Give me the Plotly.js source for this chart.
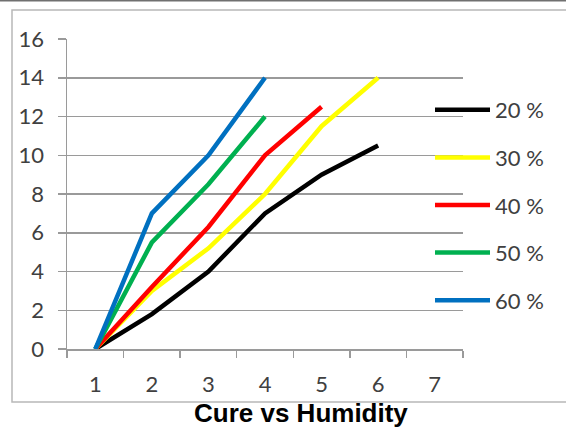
<!DOCTYPE html>
<html>
<head>
<meta charset="utf-8">
<script src="https://cdn.plot.ly/plotly-3.0.1.min.js"></script>
<style>html,body{margin:0;padding:0;background:#fff;}#chart{width:566px;height:429px;}</style>
</head>
<body>
<div id="chart"></div>
<script>
var categories = [1, 2, 3, 4, 5, 6];
var seriesNames = ["20 %", "30 %", "40 %", "50 %", "60 %"];
var s20 = [0, 1.8, 4.0, 7.0, 9.0, 10.5];
var s30 = [0, 3.0, 5.2, 8.0, 11.5, 14.0];
var s40 = [0, 3.2, 6.3, 10.0, 12.5];
var s50 = [0, 5.5, 8.5, 12.0];
var s60 = [0, 7.0, 10.0, 14.0];
var xTickLabels = ["1", "2", "3", "4", "5", "6", "7"];
var yTickVals = [0, 2, 4, 6, 8, 10, 12, 14, 16];
var colors = ["#000000", "#ffff00", "#ff0000", "#00b050", "#0070c0"];

var allSeries = [s20, s30, s40, s50, s60];
var traces = allSeries.map(function (s, i) {
  return {
    x: categories.slice(0, s.length),
    y: s,
    type: "scatter",
    mode: "lines",
    name: seriesNames[i],
    legendgroup: "g" + i,
    line: { color: colors[i], width: 4.5 }
  };
});

var W = 566, H = 429, L = 67, R = 463, T = 39, B = 349;
function px(x) { return (x - L) / (R - L); }
function py(y) { return (B - y) / (B - T); }

var tickVals = xTickLabels.map(function (t) { return Number(t); });
var minorVals = [];
for (var k = 0; k <= xTickLabels.length; k++) minorVals.push(0.5 + k);

var layout = {
  width: W, height: H,
  margin: { l: L, r: W - R, t: T, b: H - B, pad: 0 },
  paper_bgcolor: "#ffffff",
  plot_bgcolor: "#ffffff",
  font: { family: "Lato, 'Open Sans', sans-serif", size: 22, color: "#404040" },
  showlegend: true,
  legend: {
    x: px(430), y: py(89), xanchor: "left", yanchor: "top",
    font: { size: 22, color: "#404040" },
    tracegroupgap: 16,
    itemwidth: 55,
    bgcolor: "rgba(0,0,0,0)"
  },
  xaxis: {
    range: [0.5, 7.5],
    tickmode: "array",
    tickvals: tickVals,
    ticktext: xTickLabels,
    ticks: "",
    showgrid: false,
    zeroline: false,
    showline: true,
    linecolor: "#9a9a9a",
    linewidth: 1.5,
    ticklabelstandoff: 15,
    minor: { tickmode: "array", tickvals: minorVals, ticks: "outside", ticklen: 7, tickcolor: "#9a9a9a", tickwidth: 1.5, showgrid: false },
    fixedrange: true
  },
  yaxis: {
    range: [0, 16.0001],
    tickmode: "array",
    tickvals: yTickVals,
    ticks: "outside",
    ticklen: 8,
    tickcolor: "#9a9a9a",
    tickwidth: 1.5,
    showgrid: true,
    gridcolor: "#9a9a9a",
    gridwidth: 1.5,
    zeroline: false,
    showline: true,
    linecolor: "#9a9a9a",
    linewidth: 1.5,
    ticklabelstandoff: 9,
    fixedrange: true
  },
  shapes: [
    { type: "rect", xref: "paper", yref: "paper", x0: px(12), x1: px(620), y0: py(402), y1: py(10), line: { color: "#b8b8b8", width: 1.5 }, layer: "below" },
    { type: "line", xref: "paper", yref: "paper", x0: px(0), x1: px(566), y0: py(0.5), y1: py(0.5), line: { color: "#707070", width: 2 } }
  ],
  annotations: [
    { text: "<b>Cure vs Humidity</b>", xref: "paper", yref: "paper", x: px(301), y: py(413), xanchor: "center", yanchor: "middle", showarrow: false, font: { family: "'Liberation Sans', Arial, sans-serif", size: 26, color: "#000000" } }
  ]
};

Plotly.newPlot("chart", traces, layout, { displayModeBar: false, staticPlot: true });
</script>
</body>
</html>
